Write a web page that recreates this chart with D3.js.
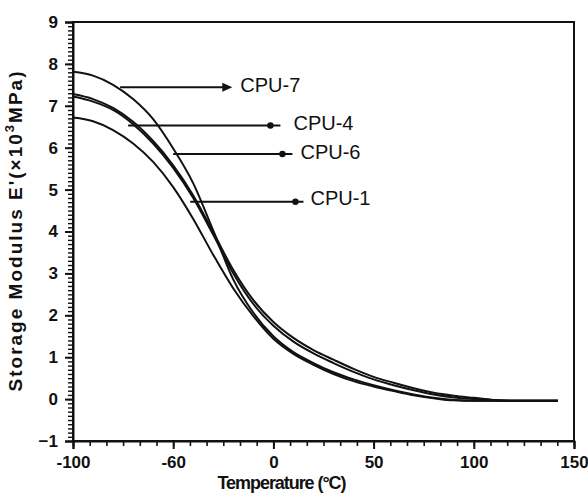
<!DOCTYPE html>
<html>
<head>
<meta charset="utf-8">
<script src="https://cdn.jsdelivr.net/npm/d3@7"></script>
<style>
  body { margin: 0; background: #fff; }
  svg { display: block; font-family: "Liberation Sans", Arial, sans-serif; }
</style>
</head>
<body>
<div id="chart"></div>
<script>
// temperatures (°C) where the curves were read
const temps = [-100, -90, -80, -70, -60, -50, -40, -30, -20, -10, 0, 10, 20, 30, 40, 50, 60, 70, 80, 90, 100, 110, 120, 130, 142];

// storage modulus E' (x10^3 MPa)
const cpu7 = [7.81, 7.72, 7.50, 7.16, 6.68, 5.98, 5.15, 4.02, 2.85, 2.06, 1.50, 1.12, 0.86, 0.64, 0.47, 0.33, 0.21, 0.11, 0.03, -0.02, -0.04, -0.04, -0.04, -0.04, -0.04];
const cpu4 = [7.28, 7.16, 6.95, 6.62, 6.16, 5.58, 4.86, 3.98, 3.08, 2.36, 1.84, 1.46, 1.17, 0.94, 0.72, 0.53, 0.39, 0.26, 0.15, 0.08, 0.03, -0.02, -0.04, -0.04, -0.04];
const cpu6 = [7.22, 7.10, 6.90, 6.56, 6.10, 5.52, 4.80, 3.92, 3.00, 2.27, 1.75, 1.37, 1.09, 0.86, 0.65, 0.47, 0.33, 0.21, 0.11, 0.04, 0.00, -0.03, -0.04, -0.04, -0.04];
const cpu1 = [6.72, 6.63, 6.42, 6.10, 5.66, 5.06, 4.30, 3.44, 2.64, 1.98, 1.44, 1.08, 0.82, 0.60, 0.43, 0.30, 0.19, 0.09, 0.02, -0.03, -0.04, -0.04, -0.04, -0.04, -0.04];

// axis ticks (the original figure labels the -50 tick as "-60")
const xTicks = [-100, -50, 0, 50, 100, 150];
const xTickLabels = ["-100", "-60", "0", "50", "100", "150"];
const yTicks = [-1, 0, 1, 2, 3, 4, 5, 6, 7, 8, 9];

// annotation arrows, in data units
const labels = ["CPU-7", "CPU-4", "CPU-6", "CPU-1"];
const arrowFromT = [-76.5, -72.5, -50, -41.5];
const arrowToT = [-20.5, 3.5, 9.5, 15];
const markT = [null, -1.5, 4.5, 11];
const arrowE = [7.44, 6.53, 5.85, 4.71];
const labelT = [-16.5, 10, 13.5, 18.5];
const labelE = [7.49, 6.58, 5.90, 4.79];

const width = 588, height = 498;
const margin = { top: 22, right: 14, bottom: 57, left: 73 };

const svg = d3.select("#chart").append("svg")
    .attr("width", width)
    .attr("height", height);

const x = d3.scaleLinear().domain([-100, 150]).range([margin.left, width - margin.right]);
const y = d3.scaleLinear().domain([-1, 9]).range([height - margin.bottom, margin.top]);

// frame
svg.append("rect")
    .attr("x", x(-100)).attr("y", y(9))
    .attr("width", x(150) - x(-100)).attr("height", y(-1) - y(9))
    .attr("fill", "none").attr("stroke", "#111").attr("stroke-width", 2);

// minor ticks
const xMinor = d3.range(0, 31).map(i => -100 + i * 50 / 6);
const yMinor = d3.range(0, 101).map(i => -1 + i * 0.1);

svg.append("g")
    .attr("transform", `translate(0,${y(-1)})`)
    .call(d3.axisBottom(x).tickValues(xMinor).tickSize(5).tickFormat(""))
    .call(g => g.select(".domain").remove())
    .call(g => g.selectAll("line").attr("stroke", "#111").attr("stroke-width", 1.6));

svg.append("g")
    .attr("transform", `translate(${x(-100)},0)`)
    .call(d3.axisLeft(y).tickValues(yMinor).tickSize(5).tickFormat(""))
    .call(g => g.select(".domain").remove())
    .call(g => g.selectAll("line").attr("stroke", "#111").attr("stroke-width", 1.4));

// major ticks + labels
svg.append("g")
    .attr("transform", `translate(0,${y(-1)})`)
    .call(d3.axisBottom(x).tickValues(xTicks).tickSize(8).tickPadding(7)
        .tickFormat((d, i) => xTickLabels[i]))
    .call(g => g.select(".domain").attr("stroke", "#111").attr("stroke-width", 2))
    .call(g => g.selectAll("line").attr("stroke", "#111").attr("stroke-width", 2))
    .call(g => g.selectAll("text")
        .attr("fill", "#111")
        .style("font-size", "17px")
        .style("font-weight", "bold"));

svg.append("g")
    .attr("transform", `translate(${x(-100)},0)`)
    .call(d3.axisLeft(y).tickValues(yTicks).tickSize(8).tickPadding(7))
    .call(g => g.select(".domain").attr("stroke", "#111").attr("stroke-width", 2))
    .call(g => g.selectAll("line").attr("stroke", "#111").attr("stroke-width", 2))
    .call(g => g.selectAll("text")
        .attr("fill", "#111")
        .style("font-size", "17px")
        .style("font-weight", "bold"));

// curves
const line = d3.line()
    .x((d, i) => x(temps[i]))
    .y(d => y(d))
    .curve(d3.curveMonotoneX);

svg.append("g")
    .selectAll("path")
    .data([cpu7, cpu4, cpu6, cpu1])
    .join("path")
    .attr("d", line)
    .attr("fill", "none")
    .attr("stroke", "#111")
    .attr("stroke-width", 2);

// annotations
const ann = svg.append("g");
labels.forEach((name, i) => {
    ann.append("line")
        .attr("x1", x(arrowFromT[i])).attr("y1", y(arrowE[i]))
        .attr("x2", x(arrowToT[i]) - (markT[i] === null ? 6 : 0)).attr("y2", y(arrowE[i]))
        .attr("stroke", "#111").attr("stroke-width", 2);
    if (markT[i] === null) {
        const tx = x(arrowToT[i]), ty = y(arrowE[i]);
        ann.append("path")
            .attr("d", `M${tx},${ty}L${tx - 10},${ty - 4.5}L${tx - 10},${ty + 4.5}Z`)
            .attr("fill", "#111");
    } else {
        ann.append("circle")
            .attr("cx", x(markT[i])).attr("cy", y(arrowE[i]))
            .attr("r", 3.2).attr("fill", "#111");
    }
    ann.append("text")
        .attr("x", x(labelT[i])).attr("y", y(labelE[i]))
        .attr("dominant-baseline", "central")
        .attr("fill", "#111")
        .style("font-size", "20px")
        .text(name);
});

// axis titles
svg.append("text")
    .attr("x", 282).attr("y", y(-1) + 48)
    .attr("text-anchor", "middle")
    .attr("textLength", 129)
    .attr("fill", "#111")
    .style("font-size", "18px")
    .style("font-weight", "bold")
    .text("Temperature (°C)");

const yTitle = svg.append("text")
    .attr("transform", `translate(22,${(y(-1) + y(9)) / 2}) rotate(-90)`)
    .attr("text-anchor", "middle")
    .attr("textLength", 320)
    .attr("fill", "#111")
    .style("font-size", "19px")
    .style("font-weight", "bold");
yTitle.append("tspan").text("Storage Modulus  E'(×10");
yTitle.append("tspan").attr("dy", -8).style("font-size", "13px").text("3");
yTitle.append("tspan").attr("dy", 8).text("MPa)");
</script>
</body>
</html>
